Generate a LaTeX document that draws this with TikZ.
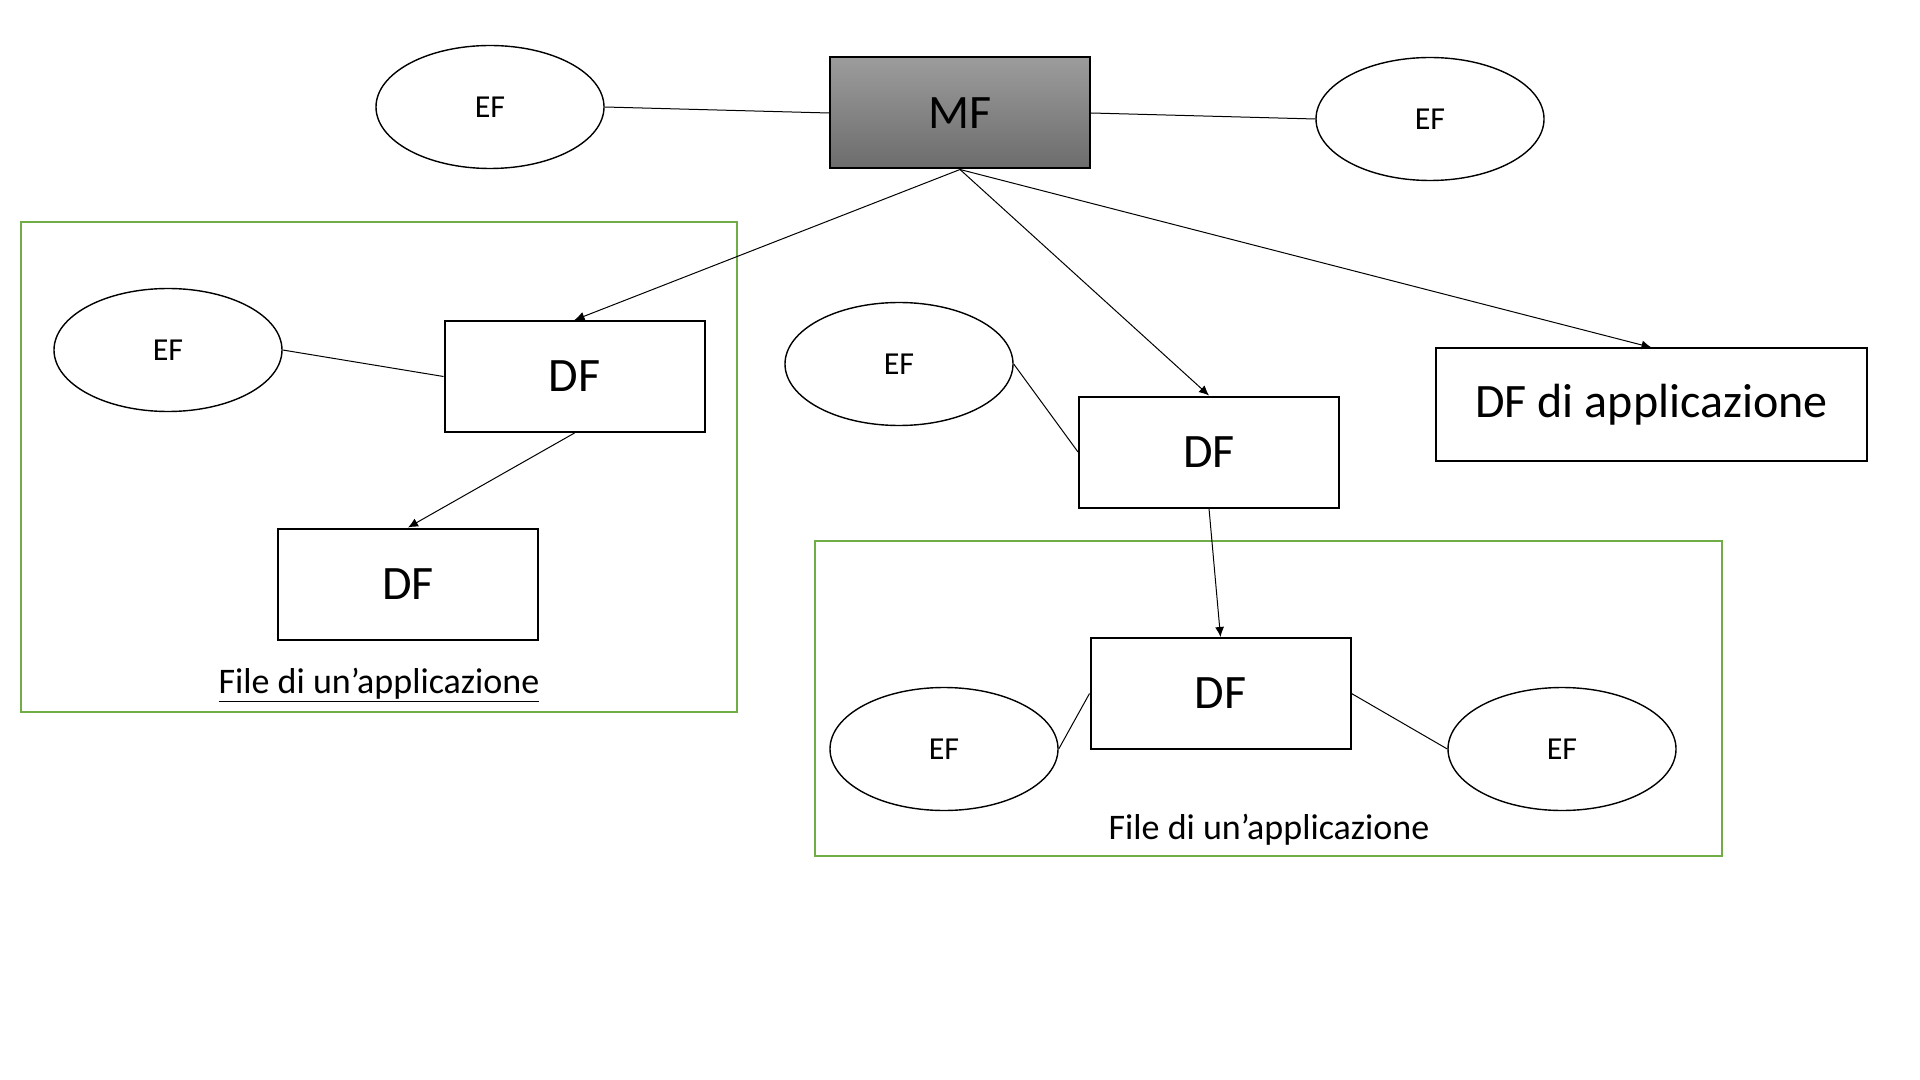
\documentclass[tikz,border=0pt]{standalone}
\usepackage{fontspec}
\setmainfont{Carlito}
\usetikzlibrary{shapes.geometric,arrows.meta}
\definecolor{officegreen}{HTML}{70AD47}
\definecolor{mftop}{HTML}{9C9C9C}
\definecolor{mfbot}{HTML}{6C6C6C}
\tikzset{
  dfbox/.style={draw=black, line width=1pt, fill=white, minimum width=130pt, minimum height=55.5pt, inner sep=0pt, font=\fontsize{24}{28}\selectfont},
  efell/.style={draw=black, line width=0.7pt, ellipse, fill=white, minimum width=114pt, minimum height=61.5pt, inner sep=0pt, font=\fontsize{16}{19}\selectfont},
  mfbox/.style={draw=black, line width=1pt, top color=mftop, bottom color=mfbot, minimum width=130pt, minimum height=55.5pt, inner sep=0pt, font=\fontsize{24}{28}\selectfont},
  groupbox/.style={draw=officegreen, line width=1pt},
  grouplabel/.style={inner sep=0pt, anchor=base, font=\fontsize{18}{22}\selectfont},
  link/.style={draw=black, line width=0.5pt},
  arr/.style={link, -{Latex[length=5pt,width=4.5pt]}}
}
\begin{document}
\begin{tikzpicture}[x=0.5pt,y=-0.5pt]
\useasboundingbox[fill=white] (0,0) rectangle (1920,1080);
% group frames
\draw[groupbox] (21,222) rectangle (737,712);
\draw[groupbox] (815,541) rectangle (1722,856);
% top
\node[mfbox] (mf) at (960,113) {MF};
\node[efell] (ef1) at (490,107) {EF};
\node[efell] (ef2) at (1430,119) {EF};
% left group
\node[efell] (ef3) at (168,350) {EF};
\node[dfbox] (df1) at (574.5,376.5) {DF};
\node[dfbox] (df2) at (408,584) {DF};
\node[grouplabel] (lab1) at (379,693) {\underline{File di un’applicazione}};
% middle
\node[efell] (ef4) at (899,364) {EF};
\node[dfbox] (df3) at (1209,452) {DF};
\node[dfbox, minimum width=215.5pt, minimum height=56pt] (dfapp) at (1651.5,404.5) {DF di applicazione};
% right group
\node[dfbox] (df4) at (1220.5,693.5) {DF};
\node[efell] (ef5) at (944,749) {EF};
\node[efell] (ef6) at (1562,749) {EF};
\node[grouplabel] (lab2) at (1269,839) {File di un’applicazione};
% connectors
\draw[link] (ef1.east) -- (mf.west);
\draw[link] (mf.east) -- (ef2.west);
\draw[arr] (mf.south) -- (df1.north);
\draw[arr] (mf.south) -- (df3.north);
\draw[arr] (mf.south) -- (dfapp.north);
\draw[link] (ef3.east) -- (df1.west);
\draw[arr] (df1.south) -- (df2.north);
\draw[link] (ef4.east) -- (df3.west);
\draw[arr] (df3.south) -- (df4.north);
\draw[link] (ef5.east) -- (df4.west);
\draw[link] (df4.east) -- (ef6.west);
\end{tikzpicture}
\end{document}
